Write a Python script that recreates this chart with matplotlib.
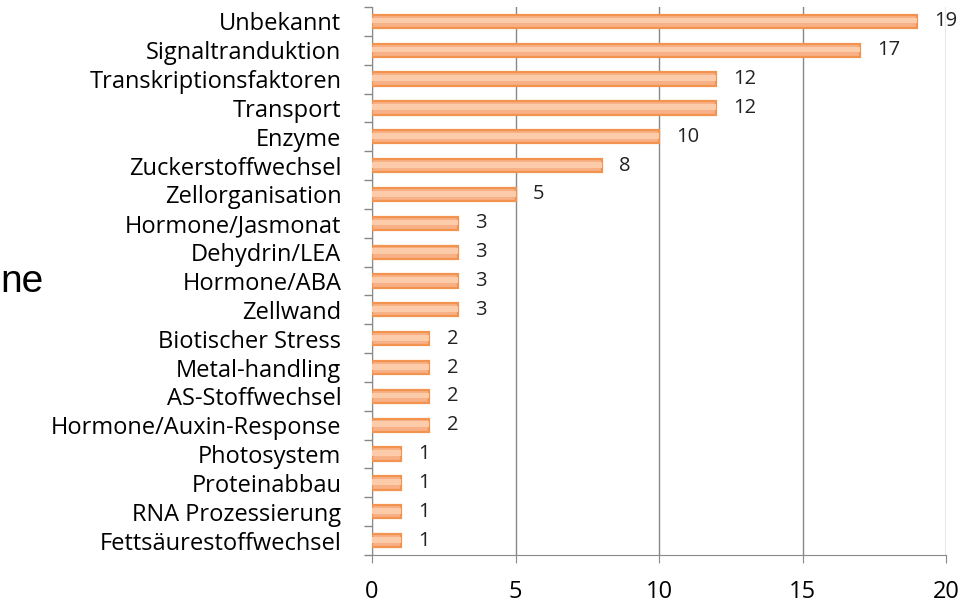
import matplotlib
matplotlib.use("Agg")
import matplotlib.pyplot as plt
import numpy as np

categories = ["Unbekannt", "Signaltranduktion", "Transkriptionsfaktoren", "Transport",
              "Enzyme", "Zuckerstoffwechsel", "Zellorganisation", "Hormone/Jasmonat",
              "Dehydrin/LEA", "Hormone/ABA", "Zellwand", "Biotischer Stress",
              "Metal-handling", "AS-Stoffwechsel", "Hormone/Auxin-Response",
              "Photosystem", "Proteinabbau", "RNA Prozessierung", "Fettsäurestoffwechsel"]
values = [19, 17, 12, 12, 10, 8, 5, 3, 3, 3, 3, 2, 2, 2, 2, 1, 1, 1, 1]
xticks = [0, 5, 10, 15, 20]

plt.rcParams['font.family'] = ['Open Sans', 'DejaVu Sans']

fig = plt.figure(figsize=(9.72, 6.06), dpi=100)
ax = fig.add_axes([0.3827, 0.0842, 0.5906, 0.9042])

n = len(categories)
y = np.arange(n)
ax.barh(y, values, height=0.46, color='#F8B087', edgecolor='#F29450', linewidth=1.6, zorder=3)
ax.barh(y - 0.03, values, height=0.2, color='#FBCBAA', linewidth=0, zorder=4)

for yi, v in zip(y, values):
    ax.text(v + 0.6, yi, str(v), va='center', ha='left', fontsize=14.5, color='#222222', zorder=5)

ax.set_ylim(n - 0.5, -0.5)
ax.set_xlim(0, 20)
ax.set_xticks(xticks)
ax.set_xticklabels([str(t) for t in xticks], fontsize=17)
ax.set_yticks(y)
ax.set_yticklabels(categories, fontsize=17)
ax.set_yticks(np.arange(n + 1) - 0.5, minor=True)
ax.tick_params(axis='y', which='major', length=0, pad=22)
ax.tick_params(axis='y', which='minor', length=6, color='#888888', width=1)
ax.tick_params(axis='x', which='major', length=6, color='#888888', pad=12)
ax.xaxis.grid(True, color='#888888', linewidth=1, zorder=0)
for s in ['top', 'right']:
    ax.spines[s].set_visible(False)
for s in ['left', 'bottom']:
    ax.spines[s].set_color('#888888')

fig.text(0.0, 0.535, "ne", fontsize=28, family=['Liberation Sans'], va='center', ha='left')

fig.savefig("out.png", dpi=100)
